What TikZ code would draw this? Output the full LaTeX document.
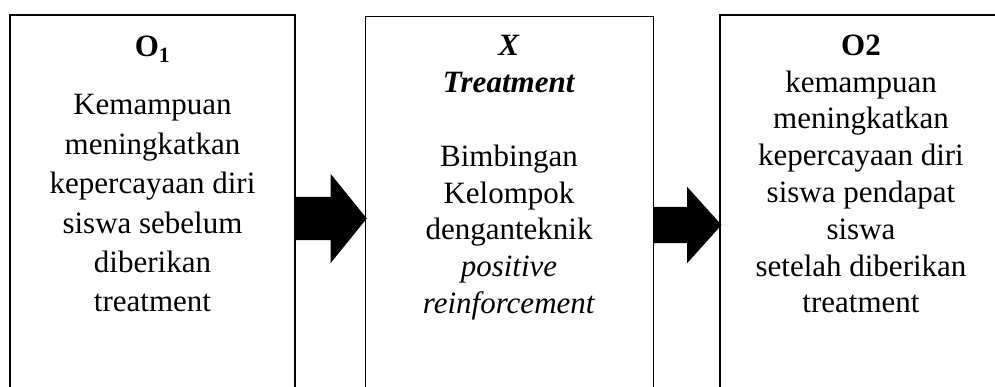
\documentclass[tikz,border=0pt]{standalone}
\usepackage{fontspec}
\setmainfont{Liberation Serif}
\usetikzlibrary{positioning,shapes.arrows,calc}

\begin{document}
\begin{tikzpicture}[x=1pt, y=1pt,
    box/.style={draw, line width=1.5pt, inner sep=0pt},
    boxtext/.style={align=center, inner sep=0pt, anchor=base, font=\fontsize{31}{36.8}\selectfont},
    blockarrow/.style={single arrow, fill=black, draw=none, inner xsep=0pt, outer sep=0pt, anchor=tail}]
    \useasboundingbox (0,0) rectangle (995,387);

    % Kotak pretest O1
    \node[box, minimum width=285pt, minimum height=385pt] (o1) at (152.5,179.5) {};
    \node[boxtext, font=\fontsize{31}{39.4}\selectfont] (o1text) at (152.5,75) {
        \textbf{O\textsubscript{1}}\\[18.6pt]
        Kemampuan\\ meningkatkan\\ kepercayaan diri\\ siswa sebelum\\ diberikan\\ treatment
    };

    % Kotak treatment X
    \node[box, line width=1pt, minimum width=288pt, minimum height=383pt] (xtreat) at (509,178.5) {};
    \node[boxtext] (xtext) at (509,73.5) {
        \textbf{\textit{X}}\\ \textbf{\textit{Treatment}}\\[36.8pt]
        Bimbingan\\ Kelompok\\ denganteknik\\ \textit{positive}\\ \textit{reinforcement}
    };

    % Kotak posttest O2
    \node[box, minimum width=282pt, minimum height=385pt] (o2) at (861,179.5) {};
    \node[boxtext] (o2text) at (861,74) {
        \textbf{O2}\\ kemampuan\\ meningkatkan\\ kepercayaan diri\\ siswa pendapat\\ siswa\\ setelah diberikan\\ treatment
    };

    % Panah blok
    \node[blockarrow, minimum height=71pt, inner ysep=21.5pt, single arrow head extend=23pt, single arrow tip angle=102] (arrow1) at ([yshift=-11pt]o1.east) {};
    \node[blockarrow, minimum height=68pt, inner ysep=18pt, single arrow head extend=20pt, single arrow tip angle=96] (arrow2) at ([yshift=-16.5pt]xtreat.east) {};
\end{tikzpicture}
\end{document}
